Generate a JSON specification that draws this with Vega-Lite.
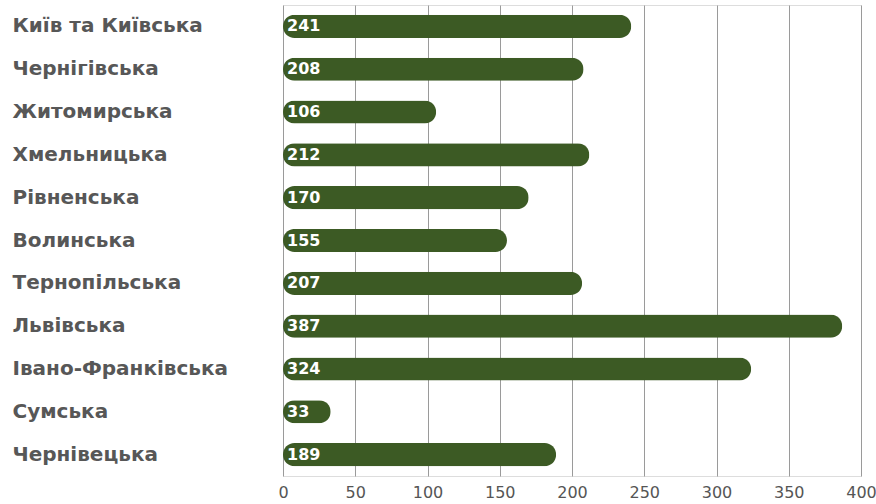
{
  "$schema": "https://vega.github.io/schema/vega-lite/v6.json",
  "autosize": {"type": "none"},
  "padding": {"left": 283, "top": 5, "right": 15, "bottom": 28},
  "width": 578,
  "height": 471,
  "background": "white",
  "data": {
    "values": [
      {"region": "Київ та Київська", "value": 241},
      {"region": "Чернігівська", "value": 208},
      {"region": "Житомирська", "value": 106},
      {"region": "Хмельницька", "value": 212},
      {"region": "Рівненська", "value": 170},
      {"region": "Волинська", "value": 155},
      {"region": "Тернопільська", "value": 207},
      {"region": "Львівська", "value": 387},
      {"region": "Івано-Франківська", "value": 324},
      {"region": "Сумська", "value": 33},
      {"region": "Чернівецька", "value": 189}
    ]
  },
  "encoding": {
    "y": {
      "field": "region",
      "type": "nominal",
      "sort": null,
      "scale": {"paddingInner": 0.46, "paddingOuter": 0.23},
      "axis": {
        "title": null,
        "domain": false,
        "ticks": false,
        "grid": false,
        "labelAlign": "left",
        "labelPadding": 271,
        "labelFont": "DejaVu Sans",
        "labelFontWeight": "bold",
        "labelFontSize": 20,
        "labelColor": "#575757",
        "labelLimit": 300
      }
    }
  },
  "layer": [
    {
      "mark": {"type": "bar", "color": "#3c5a24", "cornerRadius": 11.5},
      "encoding": {
        "x": {
          "field": "value",
          "type": "quantitative",
          "scale": {"domain": [0, 400], "nice": false},
          "axis": {
            "title": null,
            "values": [0, 50, 100, 150, 200, 250, 300, 350, 400],
            "domain": false,
            "ticks": false,
            "grid": true,
            "gridColor": "#9a9a9a",
            "gridWidth": 1,
            "labelPadding": 8,
            "labelFont": "DejaVu Sans",
            "labelFontSize": 16,
            "labelColor": "#555555",
            "labelFlush": false
          }
        }
      }
    },
    {
      "mark": {"type": "text", "align": "left", "baseline": "middle", "dx": 4, "color": "white", "font": "DejaVu Sans", "fontWeight": "bold", "fontSize": 16},
      "encoding": {
        "x": {"datum": 0, "type": "quantitative"},
        "text": {"field": "value", "type": "quantitative"}
      }
    }
  ]
}
